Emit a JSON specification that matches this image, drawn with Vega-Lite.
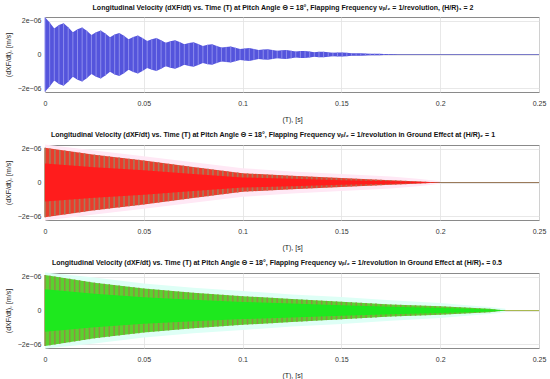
{
  "$schema": "https://vega.github.io/schema/vega-lite/v6.json",
  "padding": {"top": 3, "left": 3, "right": 8, "bottom": 0},
  "background": "white",
  "datasets": {
    "blue": [
      {"t":0,"hi":2.2,"lo":-2.2},{"t":0.00235,"hi":1.9,"lo":-1.9},{"t":0.0047,"hi":1.54,"lo":-1.54},{"t":0.00705,"hi":1.74,"lo":-1.74},
      {"t":0.0094,"hi":1.85,"lo":-1.85},{"t":0.01175,"hi":1.61,"lo":-1.61},{"t":0.0141,"hi":1.31,"lo":-1.31},{"t":0.01645,"hi":1.5,"lo":-1.5},
      {"t":0.0188,"hi":1.6,"lo":-1.6},{"t":0.02115,"hi":1.4,"lo":-1.4},{"t":0.0235,"hi":1.15,"lo":-1.15},{"t":0.02585,"hi":1.32,"lo":-1.32},
      {"t":0.0282,"hi":1.42,"lo":-1.42},{"t":0.03055,"hi":1.24,"lo":-1.24},{"t":0.0329,"hi":1.02,"lo":-1.02},{"t":0.03525,"hi":1.18,"lo":-1.18},
      {"t":0.0376,"hi":1.27,"lo":-1.27},{"t":0.03995,"hi":1.11,"lo":-1.11},{"t":0.0423,"hi":0.91,"lo":-0.91},{"t":0.04465,"hi":1.04,"lo":-1.04},
      {"t":0.047,"hi":1.12,"lo":-1.12},{"t":0.04935,"hi":0.98,"lo":-0.98},{"t":0.0517,"hi":0.8,"lo":-0.8},{"t":0.05405,"hi":0.91,"lo":-0.91},
      {"t":0.0564,"hi":0.98,"lo":-0.98},{"t":0.05875,"hi":0.85,"lo":-0.85},{"t":0.0611,"hi":0.7,"lo":-0.7},{"t":0.06345,"hi":0.79,"lo":-0.79},
      {"t":0.0658,"hi":0.85,"lo":-0.85},{"t":0.06815,"hi":0.74,"lo":-0.74},{"t":0.0705,"hi":0.6,"lo":-0.6},{"t":0.07285,"hi":0.68,"lo":-0.68},
      {"t":0.0752,"hi":0.72,"lo":-0.72},{"t":0.07755,"hi":0.62,"lo":-0.62},{"t":0.0799,"hi":0.5,"lo":-0.5},{"t":0.08225,"hi":0.57,"lo":-0.57},
      {"t":0.0846,"hi":0.6,"lo":-0.6},{"t":0.08695,"hi":0.51,"lo":-0.51},{"t":0.0893,"hi":0.41,"lo":-0.41},{"t":0.09165,"hi":0.45,"lo":-0.45},
      {"t":0.094,"hi":0.47,"lo":-0.47},{"t":0.09635,"hi":0.4,"lo":-0.4},{"t":0.0987,"hi":0.32,"lo":-0.32},{"t":0.10105,"hi":0.36,"lo":-0.36},
      {"t":0.1034,"hi":0.38,"lo":-0.38},{"t":0.10575,"hi":0.33,"lo":-0.33},{"t":0.1081,"hi":0.26,"lo":-0.26},{"t":0.11045,"hi":0.29,"lo":-0.29},
      {"t":0.1128,"hi":0.31,"lo":-0.31},{"t":0.11515,"hi":0.27,"lo":-0.27},{"t":0.1175,"hi":0.22,"lo":-0.22},{"t":0.11985,"hi":0.25,"lo":-0.25},
      {"t":0.1222,"hi":0.26,"lo":-0.26},{"t":0.12455,"hi":0.22,"lo":-0.22},{"t":0.1269,"hi":0.18,"lo":-0.18},{"t":0.12925,"hi":0.2,"lo":-0.2},
      {"t":0.1316,"hi":0.21,"lo":-0.21},{"t":0.13395,"hi":0.18,"lo":-0.18},{"t":0.1363,"hi":0.14,"lo":-0.14},{"t":0.13865,"hi":0.16,"lo":-0.16},
      {"t":0.141,"hi":0.16,"lo":-0.16},{"t":0.14335,"hi":0.135,"lo":-0.135},{"t":0.1457,"hi":0.11,"lo":-0.11},{"t":0.14805,"hi":0.12,"lo":-0.12},
      {"t":0.1504,"hi":0.12,"lo":-0.12},{"t":0.15275,"hi":0.1,"lo":-0.1},{"t":0.1551,"hi":0.076,"lo":-0.076},{"t":0.15745,"hi":0.08,"lo":-0.08},
      {"t":0.1598,"hi":0.08,"lo":-0.08},{"t":0.16215,"hi":0.063,"lo":-0.063},{"t":0.1645,"hi":0.046,"lo":-0.046},{"t":0.16685,"hi":0.045,"lo":-0.045},
      {"t":0.1692,"hi":0.04,"lo":-0.04},{"t":0.17155,"hi":0.027,"lo":-0.027},{"t":0.1739,"hi":0.015,"lo":-0.015},{"t":0.17625,"hi":0.009,"lo":-0.009},
      {"t":0.1786,"hi":0,"lo":0}
    ],
    "redEnv": [
      {"t":0,"hi":2.05,"lo":-2.05,"ih":1.13,"il":-1.13,"ph":2.25,"pl":-2.25},
      {"t":0.025,"hi":1.65,"lo":-1.65,"ih":0.91,"il":-0.91,"ph":1.9,"pl":-1.9},
      {"t":0.05,"hi":1.3,"lo":-1.3,"ih":0.72,"il":-0.72,"ph":1.55,"pl":-1.55},
      {"t":0.075,"hi":0.92,"lo":-0.92,"ih":0.51,"il":-0.51,"ph":1.2,"pl":-1.2},
      {"t":0.1,"hi":0.55,"lo":-0.55,"ih":0.3,"il":-0.3,"ph":0.85,"pl":-0.85},
      {"t":0.125,"hi":0.4,"lo":-0.4,"ih":0.22,"il":-0.22,"ph":0.65,"pl":-0.65},
      {"t":0.15,"hi":0.26,"lo":-0.26,"ih":0.14,"il":-0.14,"ph":0.5,"pl":-0.5},
      {"t":0.175,"hi":0.14,"lo":-0.14,"ih":0.08,"il":-0.08,"ph":0.35,"pl":-0.35},
      {"t":0.19,"hi":0.06,"lo":-0.06,"ih":0.03,"il":-0.03,"ph":0.2,"pl":-0.2},
      {"t":0.2,"hi":0,"lo":0,"ih":0,"il":0,"ph":0.08,"pl":-0.08}
    ],
    "redRules": [
      {"t":0,"hi":2.05,"lo":-2.05},{"t":0.0025,"hi":2.01,"lo":-2.01},{"t":0.005,"hi":1.97,"lo":-1.97},{"t":0.0075,"hi":1.93,"lo":-1.93},
      {"t":0.01,"hi":1.89,"lo":-1.89},{"t":0.0125,"hi":1.85,"lo":-1.85},{"t":0.015,"hi":1.81,"lo":-1.81},{"t":0.0175,"hi":1.77,"lo":-1.77},
      {"t":0.02,"hi":1.73,"lo":-1.73},{"t":0.0225,"hi":1.69,"lo":-1.69},{"t":0.025,"hi":1.65,"lo":-1.65},{"t":0.0275,"hi":1.62,"lo":-1.62},
      {"t":0.03,"hi":1.58,"lo":-1.58},{"t":0.0325,"hi":1.55,"lo":-1.55},{"t":0.035,"hi":1.51,"lo":-1.51},{"t":0.0375,"hi":1.48,"lo":-1.48},
      {"t":0.04,"hi":1.44,"lo":-1.44},{"t":0.0425,"hi":1.41,"lo":-1.41},{"t":0.045,"hi":1.37,"lo":-1.37},{"t":0.0475,"hi":1.34,"lo":-1.34},
      {"t":0.05,"hi":1.3,"lo":-1.3},{"t":0.0525,"hi":1.26,"lo":-1.26},{"t":0.055,"hi":1.22,"lo":-1.22},{"t":0.0575,"hi":1.19,"lo":-1.19},
      {"t":0.06,"hi":1.15,"lo":-1.15},{"t":0.0625,"hi":1.11,"lo":-1.11},{"t":0.065,"hi":1.07,"lo":-1.07},{"t":0.0675,"hi":1.03,"lo":-1.03},
      {"t":0.07,"hi":1.0,"lo":-1.0},{"t":0.0725,"hi":0.96,"lo":-0.96},{"t":0.075,"hi":0.92,"lo":-0.92},{"t":0.0775,"hi":0.88,"lo":-0.88},
      {"t":0.08,"hi":0.85,"lo":-0.85},{"t":0.0825,"hi":0.81,"lo":-0.81},{"t":0.085,"hi":0.77,"lo":-0.77},{"t":0.0875,"hi":0.74,"lo":-0.74},
      {"t":0.09,"hi":0.7,"lo":-0.7},{"t":0.0925,"hi":0.66,"lo":-0.66},{"t":0.095,"hi":0.62,"lo":-0.62},{"t":0.0975,"hi":0.59,"lo":-0.59},
      {"t":0.1,"hi":0.55,"lo":-0.55},{"t":0.1025,"hi":0.535,"lo":-0.535},{"t":0.105,"hi":0.52,"lo":-0.52},{"t":0.1075,"hi":0.505,"lo":-0.505},
      {"t":0.11,"hi":0.49,"lo":-0.49},{"t":0.1125,"hi":0.475,"lo":-0.475},{"t":0.115,"hi":0.46,"lo":-0.46},{"t":0.1175,"hi":0.445,"lo":-0.445},
      {"t":0.12,"hi":0.43,"lo":-0.43},{"t":0.1225,"hi":0.415,"lo":-0.415},{"t":0.125,"hi":0.4,"lo":-0.4},{"t":0.1275,"hi":0.386,"lo":-0.386},
      {"t":0.13,"hi":0.372,"lo":-0.372},{"t":0.1325,"hi":0.358,"lo":-0.358},{"t":0.135,"hi":0.344,"lo":-0.344},{"t":0.1375,"hi":0.33,"lo":-0.33},
      {"t":0.14,"hi":0.316,"lo":-0.316},{"t":0.1425,"hi":0.302,"lo":-0.302},{"t":0.145,"hi":0.288,"lo":-0.288},{"t":0.1475,"hi":0.274,"lo":-0.274},
      {"t":0.15,"hi":0.26,"lo":-0.26},{"t":0.1525,"hi":0.248,"lo":-0.248},{"t":0.155,"hi":0.236,"lo":-0.236},{"t":0.1575,"hi":0.224,"lo":-0.224},
      {"t":0.16,"hi":0.212,"lo":-0.212},{"t":0.1625,"hi":0.2,"lo":-0.2},{"t":0.165,"hi":0.188,"lo":-0.188},{"t":0.1675,"hi":0.176,"lo":-0.176},
      {"t":0.17,"hi":0.164,"lo":-0.164},{"t":0.1725,"hi":0.152,"lo":-0.152},{"t":0.175,"hi":0.14,"lo":-0.14},{"t":0.1775,"hi":0.127,"lo":-0.127},
      {"t":0.18,"hi":0.113,"lo":-0.113},{"t":0.1825,"hi":0.1,"lo":-0.1},{"t":0.185,"hi":0.087,"lo":-0.087},{"t":0.1875,"hi":0.073,"lo":-0.073},
      {"t":0.19,"hi":0.06,"lo":-0.06},{"t":0.1925,"hi":0.045,"lo":-0.045},{"t":0.195,"hi":0.03,"lo":-0.03},{"t":0.1975,"hi":0.015,"lo":-0.015}
    ],
    "greenEnv": [
      {"t":0,"hi":2.1,"lo":-2.1,"ih":1.26,"il":-1.26,"ph":2.25,"pl":-2.25},
      {"t":0.025,"hi":1.65,"lo":-1.65,"ih":0.99,"il":-0.99,"ph":1.95,"pl":-1.95},
      {"t":0.05,"hi":1.3,"lo":-1.3,"ih":0.78,"il":-0.78,"ph":1.6,"pl":-1.6},
      {"t":0.075,"hi":1.05,"lo":-1.05,"ih":0.63,"il":-0.63,"ph":1.35,"pl":-1.35},
      {"t":0.1,"hi":0.85,"lo":-0.85,"ih":0.51,"il":-0.51,"ph":1.15,"pl":-1.15},
      {"t":0.125,"hi":0.68,"lo":-0.68,"ih":0.41,"il":-0.41,"ph":0.95,"pl":-0.95},
      {"t":0.15,"hi":0.52,"lo":-0.52,"ih":0.31,"il":-0.31,"ph":0.8,"pl":-0.8},
      {"t":0.175,"hi":0.36,"lo":-0.36,"ih":0.22,"il":-0.22,"ph":0.6,"pl":-0.6},
      {"t":0.2,"hi":0.25,"lo":-0.25,"ih":0.15,"il":-0.15,"ph":0.45,"pl":-0.45},
      {"t":0.215,"hi":0.17,"lo":-0.17,"ih":0.1,"il":-0.1,"ph":0.3,"pl":-0.3},
      {"t":0.225,"hi":0.1,"lo":-0.1,"ih":0.06,"il":-0.06,"ph":0.2,"pl":-0.2},
      {"t":0.233,"hi":0,"lo":0,"ih":0,"il":0,"ph":0.1,"pl":-0.1}
    ],
    "greenRules": [
      {"t":0,"hi":2.1,"lo":-2.1},{"t":0.0025,"hi":2.06,"lo":-2.06},{"t":0.005,"hi":2.01,"lo":-2.01},{"t":0.0075,"hi":1.97,"lo":-1.97},
      {"t":0.01,"hi":1.92,"lo":-1.92},{"t":0.0125,"hi":1.88,"lo":-1.88},{"t":0.015,"hi":1.83,"lo":-1.83},{"t":0.0175,"hi":1.79,"lo":-1.79},
      {"t":0.02,"hi":1.74,"lo":-1.74},{"t":0.0225,"hi":1.7,"lo":-1.7},{"t":0.025,"hi":1.65,"lo":-1.65},{"t":0.0275,"hi":1.62,"lo":-1.62},
      {"t":0.03,"hi":1.58,"lo":-1.58},{"t":0.0325,"hi":1.55,"lo":-1.55},{"t":0.035,"hi":1.51,"lo":-1.51},{"t":0.0375,"hi":1.48,"lo":-1.48},
      {"t":0.04,"hi":1.44,"lo":-1.44},{"t":0.0425,"hi":1.41,"lo":-1.41},{"t":0.045,"hi":1.37,"lo":-1.37},{"t":0.0475,"hi":1.34,"lo":-1.34},
      {"t":0.05,"hi":1.3,"lo":-1.3},{"t":0.0525,"hi":1.28,"lo":-1.28},{"t":0.055,"hi":1.25,"lo":-1.25},{"t":0.0575,"hi":1.23,"lo":-1.23},
      {"t":0.06,"hi":1.2,"lo":-1.2},{"t":0.0625,"hi":1.18,"lo":-1.18},{"t":0.065,"hi":1.15,"lo":-1.15},{"t":0.0675,"hi":1.13,"lo":-1.13},
      {"t":0.07,"hi":1.1,"lo":-1.1},{"t":0.0725,"hi":1.08,"lo":-1.08},{"t":0.075,"hi":1.05,"lo":-1.05},{"t":0.0775,"hi":1.03,"lo":-1.03},
      {"t":0.08,"hi":1.01,"lo":-1.01},{"t":0.0825,"hi":0.99,"lo":-0.99},{"t":0.085,"hi":0.97,"lo":-0.97},{"t":0.0875,"hi":0.95,"lo":-0.95},
      {"t":0.09,"hi":0.93,"lo":-0.93},{"t":0.0925,"hi":0.91,"lo":-0.91},{"t":0.095,"hi":0.89,"lo":-0.89},{"t":0.0975,"hi":0.87,"lo":-0.87},
      {"t":0.1,"hi":0.85,"lo":-0.85},{"t":0.1025,"hi":0.833,"lo":-0.833},{"t":0.105,"hi":0.816,"lo":-0.816},{"t":0.1075,"hi":0.799,"lo":-0.799},
      {"t":0.11,"hi":0.782,"lo":-0.782},{"t":0.1125,"hi":0.765,"lo":-0.765},{"t":0.115,"hi":0.748,"lo":-0.748},{"t":0.1175,"hi":0.731,"lo":-0.731},
      {"t":0.12,"hi":0.714,"lo":-0.714},{"t":0.1225,"hi":0.697,"lo":-0.697},{"t":0.125,"hi":0.68,"lo":-0.68},{"t":0.1275,"hi":0.664,"lo":-0.664},
      {"t":0.13,"hi":0.648,"lo":-0.648},{"t":0.1325,"hi":0.632,"lo":-0.632},{"t":0.135,"hi":0.616,"lo":-0.616},{"t":0.1375,"hi":0.6,"lo":-0.6},
      {"t":0.14,"hi":0.584,"lo":-0.584},{"t":0.1425,"hi":0.568,"lo":-0.568},{"t":0.145,"hi":0.552,"lo":-0.552},{"t":0.1475,"hi":0.536,"lo":-0.536},
      {"t":0.15,"hi":0.52,"lo":-0.52},{"t":0.1525,"hi":0.504,"lo":-0.504},{"t":0.155,"hi":0.488,"lo":-0.488},{"t":0.1575,"hi":0.472,"lo":-0.472},
      {"t":0.16,"hi":0.456,"lo":-0.456},{"t":0.1625,"hi":0.44,"lo":-0.44},{"t":0.165,"hi":0.424,"lo":-0.424},{"t":0.1675,"hi":0.408,"lo":-0.408},
      {"t":0.17,"hi":0.392,"lo":-0.392},{"t":0.1725,"hi":0.376,"lo":-0.376},{"t":0.175,"hi":0.36,"lo":-0.36},{"t":0.1775,"hi":0.349,"lo":-0.349},
      {"t":0.18,"hi":0.338,"lo":-0.338},{"t":0.1825,"hi":0.327,"lo":-0.327},{"t":0.185,"hi":0.316,"lo":-0.316},{"t":0.1875,"hi":0.305,"lo":-0.305},
      {"t":0.19,"hi":0.294,"lo":-0.294},{"t":0.1925,"hi":0.283,"lo":-0.283},{"t":0.195,"hi":0.272,"lo":-0.272},{"t":0.1975,"hi":0.261,"lo":-0.261},
      {"t":0.2,"hi":0.25,"lo":-0.25},{"t":0.2025,"hi":0.237,"lo":-0.237},{"t":0.205,"hi":0.223,"lo":-0.223},{"t":0.2075,"hi":0.21,"lo":-0.21},
      {"t":0.21,"hi":0.197,"lo":-0.197},{"t":0.2125,"hi":0.183,"lo":-0.183},{"t":0.215,"hi":0.17,"lo":-0.17},{"t":0.2175,"hi":0.153,"lo":-0.153},
      {"t":0.22,"hi":0.135,"lo":-0.135},{"t":0.2225,"hi":0.118,"lo":-0.118},{"t":0.225,"hi":0.1,"lo":-0.1},{"t":0.2275,"hi":0.065,"lo":-0.065},
      {"t":0.23,"hi":0.035,"lo":-0.035},{"t":0.2325,"hi":0.01,"lo":-0.01}
    ],
    "zero": [{"t":0,"v":0},{"t":0.25,"v":0}]
  },
  "vconcat": [
    {
      "width": 494, "height": 75,
      "title": {"text": "Longitudinal Velocity (dXF/dt) vs. Time (T) at Pitch Angle Θ = 18°, Flapping Frequency νᵦ/₂ = 1/revolution, (H/R)₁ = 2", "dx": -9},
      "encoding": {"x": {"field": "t", "type": "quantitative", "scale": {"domain": [0, 0.25], "nice": false}, "axis": {"values": [0, 0.05, 0.1, 0.15, 0.2, 0.25], "tickCount": 10, "format": "~g", "title": "(T), [s]"}}},
      "layer": [
        {"data": {"name": "zero"}, "mark": {"type": "line", "color": "#7a7ac8", "strokeWidth": 1},
         "encoding": {"y": {"field": "v", "type": "quantitative", "scale": {"domain": [-2.22, 2.22], "nice": false}, "title": "(dXF/dt), [m/s]", "axis": {"values": [-2, 0, 2], "tickCount": 5, "labelOverlap": false, "labelExpr": "datum.value > 0 ? '2e−06' : (datum.value < 0 ? '−2e−06' : '0')"}}}},
        {"data": {"name": "blue"}, "mark": {"type": "area", "color": "#5454dc"},
         "encoding": {"y": {"field": "hi", "type": "quantitative", "title": "(dXF/dt), [m/s]"}, "y2": {"field": "lo"}}},
        {"data": {"name": "blue"}, "mark": {"type": "rule", "color": "#8c8cec", "strokeWidth": 1},
         "encoding": {"y": {"field": "hi", "type": "quantitative", "title": "(dXF/dt), [m/s]"}, "y2": {"field": "lo"}}}
      ]
    },
    {
      "width": 494, "height": 75,
      "title": {"text": "Longitudinal Velocity (dXF/dt) vs. Time (T) at Pitch Angle Θ = 18°, Flapping Frequency νᵦ/₂ = 1/revolution in Ground Effect at (H/R)₂ = 1", "dx": -19},
      "encoding": {"x": {"field": "t", "type": "quantitative", "scale": {"domain": [0, 0.25], "nice": false}, "axis": {"values": [0, 0.05, 0.1, 0.15, 0.2, 0.25], "tickCount": 10, "format": "~g", "title": "(T), [s]"}}},
      "layer": [
        {"data": {"name": "redEnv"}, "mark": {"type": "area", "color": "#ffe8f5"},
         "encoding": {"y": {"field": "ph", "type": "quantitative", "scale": {"domain": [-2.22, 2.22], "nice": false}, "title": "(dXF/dt), [m/s]", "axis": {"values": [-2, 0, 2], "tickCount": 5, "labelOverlap": false, "labelExpr": "datum.value > 0 ? '2e−06' : (datum.value < 0 ? '−2e−06' : '0')"}}, "y2": {"field": "pl"}}},
        {"data": {"name": "zero"}, "mark": {"type": "line", "color": "#9a7a5a", "strokeWidth": 1},
         "encoding": {"y": {"field": "v", "type": "quantitative", "title": "(dXF/dt), [m/s]"}}},
        {"data": {"name": "redEnv"}, "mark": {"type": "area", "color": "#ea3c2c"},
         "encoding": {"y": {"field": "hi", "type": "quantitative", "title": "(dXF/dt), [m/s]"}, "y2": {"field": "lo"}}},
        {"data": {"name": "redRules"}, "mark": {"type": "rule", "color": "#a87a5a", "strokeWidth": 1.6},
         "encoding": {"y": {"field": "hi", "type": "quantitative", "title": "(dXF/dt), [m/s]"}, "y2": {"field": "lo"}}},
        {"data": {"name": "redEnv"}, "mark": {"type": "area", "color": "#ff1c1c"},
         "encoding": {"y": {"field": "ih", "type": "quantitative", "title": "(dXF/dt), [m/s]"}, "y2": {"field": "il"}}}
      ]
    },
    {
      "width": 494, "height": 75,
      "title": {"text": "Longitudinal Velocity (dXF/dt) vs. Time (T) at Pitch Angle Θ = 18°, Flapping Frequency νᵦ/₂ = 1/revolution in Ground Effect at (H/R)₃ = 0.5", "dx": -15},
      "encoding": {"x": {"field": "t", "type": "quantitative", "scale": {"domain": [0, 0.25], "nice": false}, "axis": {"values": [0, 0.05, 0.1, 0.15, 0.2, 0.25], "tickCount": 10, "format": "~g", "title": "(T), [s]"}}},
      "layer": [
        {"data": {"name": "greenEnv"}, "mark": {"type": "area", "color": "#defff6"},
         "encoding": {"y": {"field": "ph", "type": "quantitative", "scale": {"domain": [-2.22, 2.22], "nice": false}, "title": "(dXF/dt), [m/s]", "axis": {"values": [-2, 0, 2], "tickCount": 5, "labelOverlap": false, "labelExpr": "datum.value > 0 ? '2e−06' : (datum.value < 0 ? '−2e−06' : '0')"}}, "y2": {"field": "pl"}}},
        {"data": {"name": "zero"}, "mark": {"type": "line", "color": "#a8b850", "strokeWidth": 1},
         "encoding": {"y": {"field": "v", "type": "quantitative", "title": "(dXF/dt), [m/s]"}}},
        {"data": {"name": "greenEnv"}, "mark": {"type": "area", "color": "#5ad22e"},
         "encoding": {"y": {"field": "hi", "type": "quantitative", "title": "(dXF/dt), [m/s]"}, "y2": {"field": "lo"}}},
        {"data": {"name": "greenRules"}, "mark": {"type": "rule", "color": "#8e9046", "strokeWidth": 1.5},
         "encoding": {"y": {"field": "hi", "type": "quantitative", "title": "(dXF/dt), [m/s]"}, "y2": {"field": "lo"}}},
        {"data": {"name": "greenEnv"}, "mark": {"type": "area", "color": "#1ee81e"},
         "encoding": {"y": {"field": "ih", "type": "quantitative", "title": "(dXF/dt), [m/s]"}, "y2": {"field": "il"}}}
      ]
    }
  ],
  "config": {
    "font": "Liberation Sans",
    "view": {"stroke": "#8a8a8a", "strokeWidth": 1},
    "axis": {"labelFontSize": 7, "labelColor": "#333333", "titleFontSize": 7, "titleFontWeight": "normal", "titleColor": "#222222", "gridColor": "#e2e2e2", "gridWidth": 0.8, "domain": false, "ticks": false, "labelPadding": 4},
    "axisX": {"titlePadding": 9, "labelPadding": 7, "labelFlush": false},
    "axisY": {"titlePadding": 6, "labelOverlap": false},
    "title": {"fontSize": 7, "fontWeight": "bold", "color": "#111111", "offset": 6},
    "concat": {"spacing": 7}
  }
}
